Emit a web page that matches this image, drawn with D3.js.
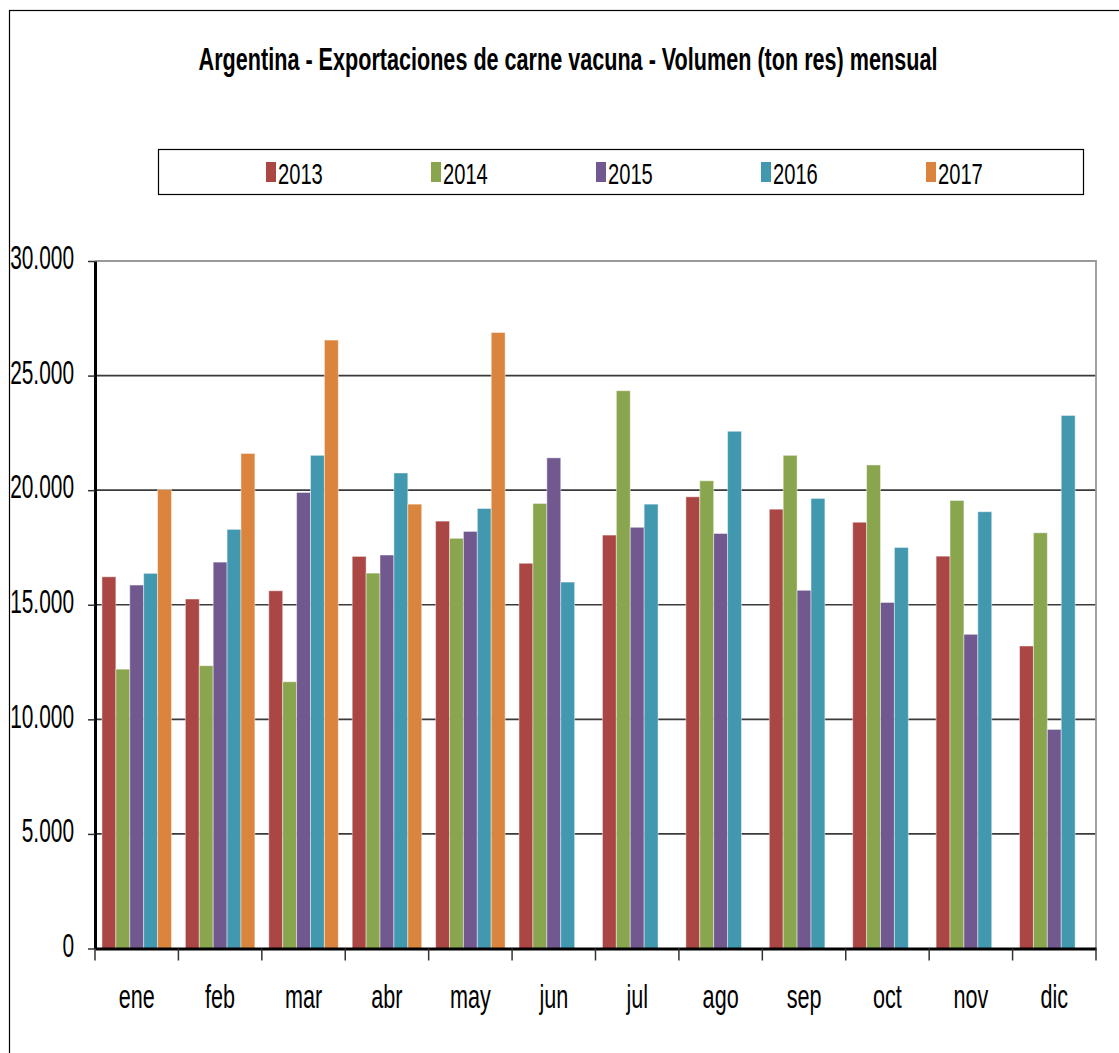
<!DOCTYPE html>
<html>
<head>
<meta charset="utf-8">
<script src="https://cdn.jsdelivr.net/npm/d3@7"></script>
<style>
  body { margin: 0; background: #fff; }
  text { font-family: "Liberation Sans", Arial, sans-serif; fill: #000; }
</style>
</head>
<body>
<svg id="chart" width="1119" height="1053"></svg>
<script>
const months = ["ene", "feb", "mar", "abr", "may", "jun", "jul", "ago", "sep", "oct", "nov", "dic"]
const years = ["2013", "2014", "2015", "2016", "2017"]
const colors = ["#AA4643", "#89A54E", "#71588F", "#4198AF", "#DB843D"]

// ton res por mes
const v2013 = [16220, 15250, 15610, 17110, 18650, 16810, 18040, 19710, 19170, 18600, 17120, 13200]
const v2014 = [12190, 12340, 11640, 16380, 17900, 19420, 24340, 20410, 21520, 21100, 19550, 18140]
const v2015 = [15860, 16860, 19900, 17170, 18200, 21410, 18380, 18110, 15630, 15100, 13710, 9560]
const v2016 = [16370, 18290, 21520, 20750, 19200, 15990, 19390, 22570, 19640, 17500, 19060, 23260]
const v2017 = [20030, 21600, 26550, 19390, 26880, null, null, null, null, null, null, null]
const yTicks = [0, 5000, 10000, 15000, 20000, 25000, 30000]

const series = [v2013, v2014, v2015, v2016, v2017]

// no narrow font installed, so squeeze text sideways (and stretch a bit up)
const narrow = (sel, x, y, sx = 0.72, sy = 1) => sel.attr("x", 0).attr("y", 0)
    .attr("transform", `translate(${x},${y}) scale(${sx},${sy})`)

const svg = d3.select("#chart")
const margin = {top: 261, left: 95, right: 1096, bottom: 948.5}

// outer frame (cut by the picture edge)
svg.append("rect")
    .attr("x", 9.5).attr("y", 10.5)
    .attr("width", 1300).attr("height", 1300)
    .attr("fill", "none").attr("stroke", "#000").attr("stroke-width", 1.2)

svg.append("text")
    .attr("text-anchor", "middle")
    .style("font-size", "30px").style("font-weight", "bold")
    .text("Argentina - Exportaciones de carne vacuna - Volumen (ton res) mensual")
    .call(narrow, 568, 70, 0.72, 1.05)

// legend
const legend = svg.append("g")
legend.append("rect")
    .attr("x", 158.5).attr("y", 149.5).attr("width", 925).attr("height", 45)
    .attr("fill", "#fff").attr("stroke", "#000").attr("stroke-width", 1.2)
years.forEach((yr, i) => {
    const g = legend.append("g").attr("transform", `translate(${266 + i * 165},0)`)
    g.append("rect").attr("x", 0).attr("y", 162).attr("width", 10).attr("height", 20).attr("fill", colors[i])
    g.append("text").style("font-size", "28px").text(yr).call(narrow, 12, 184, 0.72, 1.08)
})

const x0 = d3.scaleBand().domain(months).range([margin.left, margin.right]).paddingInner(0).paddingOuter(0)
const x1 = d3.scaleBand().domain(years).range([0, x0.bandwidth()]).paddingOuter(0.5).paddingInner(0)
const y = d3.scaleLinear().domain([0, 30000]).range([margin.bottom, margin.top])

// gridlines
svg.append("g").selectAll("line")
    .data(yTicks.filter(d => d > 0 && d < 30000))
    .join("line")
    .attr("x1", margin.left).attr("x2", margin.right)
    .attr("y1", d => y(d)).attr("y2", d => y(d))
    .attr("stroke", "#3a3a3a").attr("stroke-width", 1.6)

// plot border top/right
svg.append("path")
    .attr("d", `M${margin.left},${y(30000)}H${margin.right}V${margin.bottom}`)
    .attr("fill", "none").attr("stroke", "#999").attr("stroke-width", 1.8)

// bars
const groups = svg.append("g").selectAll("g")
    .data(months)
    .join("g")
    .attr("transform", d => `translate(${x0(d)},0)`)

groups.selectAll("rect")
    .data((m, i) => years.map((yr, j) => ({yr, j, v: series[j][i]})).filter(d => d.v != null))
    .join("rect")
    .attr("x", d => x1(d.yr))
    .attr("width", x1.bandwidth())
    .attr("y", d => y(d.v))
    .attr("height", d => y(0) - y(d.v))
    .attr("fill", d => colors[d.j])
    .attr("stroke", "rgba(255,255,255,0.45)")
    .attr("stroke-width", 1)

// y axis
const yAxis = svg.append("g")
    .attr("transform", `translate(${margin.left},0)`)
    .call(d3.axisLeft(y).tickValues(yTicks).tickSize(7).tickSizeOuter(0)
        .tickFormat(d => d3.format(",")(d).replace(/,/g, ".")))
yAxis.select(".domain").attr("stroke", "#000").attr("stroke-width", 3)
yAxis.selectAll(".tick line").attr("stroke", "#333").attr("stroke-width", 1.5)
yAxis.selectAll(".tick text").attr("dy", "0.33em")
    .style("font-size", "29px").attr("fill", "#000")
    .call(narrow, -21, -3, 0.72, 1.12)

// x axis
const xAxis = svg.append("g")
    .attr("transform", `translate(0,${margin.bottom})`)
    .call(d3.axisBottom(x0).tickSize(0).tickSizeOuter(0))
xAxis.select(".domain").attr("stroke", "#000").attr("stroke-width", 3)
xAxis.selectAll(".tick text").attr("dy", "0.71em").style("font-size", "30px").attr("fill", "#000")
    .call(narrow, 0, 36, 0.72, 1.12)
xAxis.append("g").selectAll("line")
    .data(months.map(m => x0(m)).concat([margin.right]))
    .join("line")
    .attr("x1", d => d).attr("x2", d => d)
    .attr("y1", 0).attr("y2", 12)
    .attr("stroke", "#333").attr("stroke-width", 1.5)
</script>
</body>
</html>
